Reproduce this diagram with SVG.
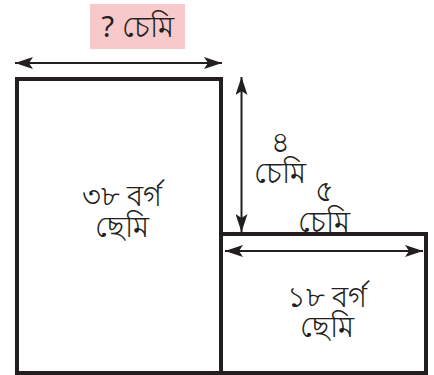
<svg xmlns="http://www.w3.org/2000/svg" width="434" height="375" viewBox="0 0 434 375">
<defs>
<style>
.box{fill:#fff;stroke:#231f20;stroke-width:4}
.dim{stroke:#231f20;stroke-width:2;fill:none}
.t{font-family:"Noto Sans",sans-serif;font-size:29px;fill:#231f20;text-anchor:middle}
</style>
<marker id="ah" viewBox="0 0 18 12" refX="18" refY="6" markerWidth="18" markerHeight="12" markerUnits="userSpaceOnUse" orient="auto-start-reverse">
<path d="M0,0 L18,6 L0,12 L4,6 Z" fill="#231f20"/>
</marker>
</defs>
<rect width="434" height="375" fill="#fff"/>
<g id="label-top">
<rect x="90" y="4" width="95" height="45" fill="#f7c9cb"/>
<text class="t" x="137.5" y="37">? চেমি</text>
</g>
<g id="rect-large">
<rect class="box" x="17" y="79" width="204" height="294"/>
<text class="t" x="122"><tspan x="122" y="206">৩৮ বৰ্গ</tspan><tspan x="122" y="237">ছেমি</tspan></text>
</g>
<g id="rect-small">
<rect class="box" x="221" y="234" width="205" height="139"/>
<text class="t" x="327"><tspan x="327" y="307">১৮ বৰ্গ</tspan><tspan x="327" y="337">ছেমি</tspan></text>
</g>
<g id="connectors">
<line class="dim" x1="15" y1="63" x2="222" y2="63" marker-start="url(#ah)" marker-end="url(#ah)"/>
<line class="dim" x1="241.5" y1="77" x2="241.5" y2="232" marker-start="url(#ah)" marker-end="url(#ah)"/>
<line class="dim" x1="225" y1="251" x2="423" y2="251" marker-start="url(#ah)" marker-end="url(#ah)"/>
</g>
<g id="label-height">
<text class="t" x="280"><tspan x="280" y="152">৪</tspan><tspan x="280" y="183">চেমি</tspan></text>
</g>
<g id="label-width">
<text class="t" x="324"><tspan x="324" y="201">৫</tspan><tspan x="324" y="232">চেমি</tspan></text>
</g>
</svg>
